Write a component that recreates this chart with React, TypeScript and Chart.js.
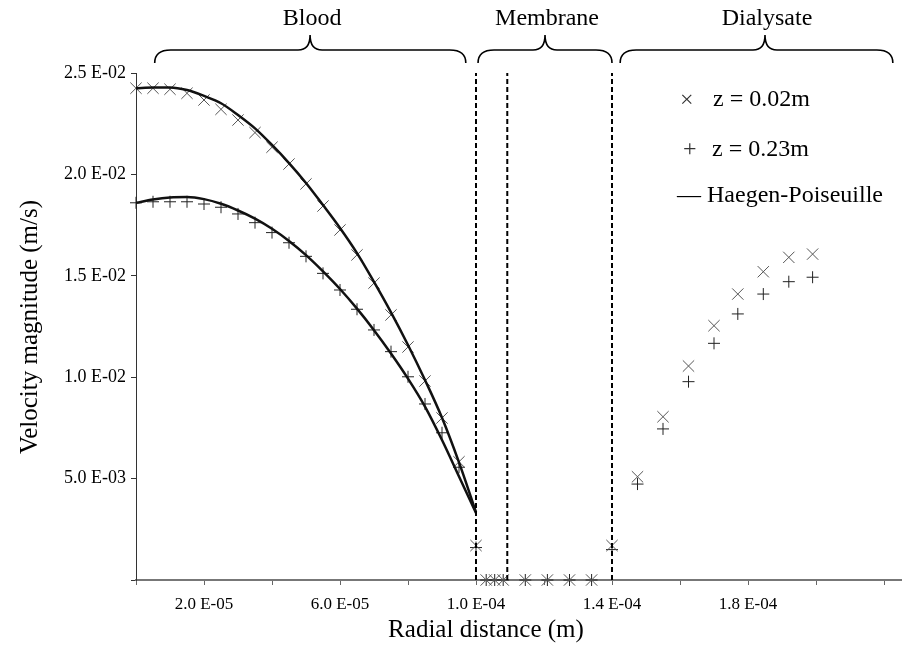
import { useEffect, useRef } from "react";
import { Chart, registerables } from "chart.js";
Chart.register(...registerables);

const FONT = '"Liberation Serif", "Times New Roman", serif';

// Radial positions in the blood region (m)
const R_BLOOD = [0, 5e-6, 1e-5, 1.5e-5, 2e-5, 2.5e-5, 3e-5, 3.5e-5, 4e-5, 4.5e-5, 5e-5, 5.5e-5, 6e-5, 6.5e-5, 7e-5, 7.5e-5, 8e-5, 8.5e-5, 9e-5, 9.5e-5, 1e-4];
// z = 0.02m simulated velocity in blood (m/s)
const V_Z002_BLOOD = [24.25e-3, 24.25e-3, 24.2e-3, 24.0e-3, 23.67e-3, 23.21e-3, 22.68e-3, 22.06e-3, 21.34e-3, 20.51e-3, 19.53e-3, 18.44e-3, 17.26e-3, 16.03e-3, 14.64e-3, 13.07e-3, 11.49e-3, 9.81e-3, 7.99e-3, 5.83e-3, 1.7e-3];
// z = 0.23m simulated velocity in blood (m/s)
const V_Z023_BLOOD = [18.6e-3, 18.65e-3, 18.65e-3, 18.65e-3, 18.54e-3, 18.38e-3, 18.05e-3, 17.62e-3, 17.13e-3, 16.63e-3, 15.96e-3, 15.12e-3, 14.3e-3, 13.35e-3, 12.33e-3, 11.26e-3, 10.02e-3, 8.68e-3, 7.26e-3, 5.56e-3, 1.6e-3];
// Haegen-Poiseuille profiles (m/s)
const HP_UPPER = [24.25e-3, 24.29e-3, 24.29e-3, 24.16e-3, 23.87e-3, 23.51e-3, 22.93e-3, 22.27e-3, 21.45e-3, 20.56e-3, 19.58e-3, 18.49e-3, 17.36e-3, 16.12e-3, 14.7e-3, 13.2e-3, 11.59e-3, 9.86e-3, 8.0e-3, 5.8e-3, 3.35e-3];
const HP_LOWER = [18.6e-3, 18.76e-3, 18.86e-3, 18.88e-3, 18.78e-3, 18.55e-3, 18.22e-3, 17.82e-3, 17.32e-3, 16.72e-3, 16.02e-3, 15.22e-3, 14.35e-3, 13.38e-3, 12.32e-3, 11.17e-3, 9.93e-3, 8.55e-3, 6.9e-3, 5.1e-3, 3.3e-3];

// Membrane region
const R_MEMBRANE = [1.03e-4, 1.055e-4, 1.08e-4, 1.145e-4, 1.21e-4, 1.275e-4, 1.34e-4, 1.4e-4];
const V_Z002_MEMBRANE = [0, 0, 0, 0, 0, 0, 0, 1.7e-3];
const V_Z023_MEMBRANE = [0, 0, 0, 0, 0, 0, 0, 1.5e-3];

// Dialysate region
const R_DIALYSATE = [1.475e-4, 1.55e-4, 1.625e-4, 1.7e-4, 1.77e-4, 1.845e-4, 1.92e-4, 1.99e-4];
const V_Z002_DIALYSATE = [5.09e-3, 8.05e-3, 10.55e-3, 12.54e-3, 14.1e-3, 15.2e-3, 15.91e-3, 16.07e-3];
const V_Z023_DIALYSATE = [4.73e-3, 7.45e-3, 9.78e-3, 11.67e-3, 13.12e-3, 14.1e-3, 14.71e-3, 14.93e-3];

// Membrane boundaries (dashed lines)
const BOUNDARIES = [1.0e-4, 1.092e-4, 1.4e-4];

// Regions with braces: [start, tip, end]
const REGION_NAMES = ["Blood", "Membrane", "Dialysate"];
const REGION_SPANS = [
  [0.55e-5, 5.12e-5, 9.7e-5],
  [10.06e-5, 12.03e-5, 14.0e-5],
  [14.24e-5, 18.5e-5, 22.26e-5],
];

const X_TICKS = [0, 2e-5, 4e-5, 6e-5, 8e-5, 1e-4, 1.2e-4, 1.4e-4, 1.6e-4, 1.8e-4, 2e-4, 2.2e-4];
const X_TICK_LABELS = ["", "2.0 E-05", "", "6.0 E-05", "", "1.0 E-04", "", "1.4 E-04", "", "1.8 E-04", "", ""];
const Y_TICKS = [0, 0.005, 0.01, 0.015, 0.02, 0.025];
const Y_TICK_LABELS = ["", "5.0 E-03", "1.0 E-02", "1.5 E-02", "2.0 E-02", "2.5 E-02"];

const LEGEND = [
  { sym: "\u00d7", text: "z = 0.02m" },
  { sym: "+", text: "z = 0.23m" },
  { sym: "\u2014", text: "Haegen-Poiseuille" },
];

const pts = (xs: number[], ys: number[]) => xs.map((x, i) => ({ x, y: ys[i] }));

const overlay = {
  id: "overlay",
  afterDraw(chart: any) {
    const ctx = chart.ctx;
    const xs = chart.scales.x;
    ctx.save();
    ctx.fillStyle = "#000";
    ctx.strokeStyle = "#000";
    // braces and region labels
    ctx.lineWidth = 1.6;
    REGION_SPANS.forEach((span, i) => {
      const x0 = xs.getPixelForValue(span[0]);
      const xt = xs.getPixelForValue(span[1]);
      const x1 = xs.getPixelForValue(span[2]);
      const yEnd = 63, yMid = 50, yTip = 35;
      ctx.beginPath();
      ctx.moveTo(x0, yEnd);
      ctx.quadraticCurveTo(x0, yMid, x0 + 16, yMid);
      ctx.lineTo(xt - 12, yMid);
      ctx.quadraticCurveTo(xt, yMid, xt, yTip);
      ctx.quadraticCurveTo(xt, yMid, xt + 12, yMid);
      ctx.lineTo(x1 - 16, yMid);
      ctx.quadraticCurveTo(x1, yMid, x1, yEnd);
      ctx.stroke();
      ctx.font = `24px ${FONT}`;
      ctx.textAlign = "center";
      ctx.textBaseline = "alphabetic";
      ctx.fillText(REGION_NAMES[i], xt + 2, 25);
    });
    // legend
    ctx.font = `24px ${FONT}`;
    ctx.textBaseline = "middle";
    ctx.textAlign = "left";
    ctx.fillStyle = "#333";
    ctx.fillText(LEGEND[0].sym, 680, 101);
    ctx.fillStyle = "#000";
    ctx.fillText(LEGEND[0].text, 713, 100);
    ctx.fillStyle = "#333";
    ctx.fillText(LEGEND[1].sym, 683, 150);
    ctx.fillStyle = "#000";
    ctx.fillText(LEGEND[1].text, 712, 150);
    ctx.fillText(LEGEND[2].sym + " " + LEGEND[2].text, 677, 196);
    // axis titles
    ctx.font = `25px ${FONT}`;
    ctx.textAlign = "center";
    ctx.fillText("Radial distance (m)", 486, 630);
    ctx.translate(30, 327);
    ctx.rotate(-Math.PI / 2);
    ctx.fillText("Velocity magnitude (m/s)", 0, 0);
    ctx.restore();
  },
};

export default function App() {
  const ref = useRef<HTMLCanvasElement>(null);
  useEffect(() => {
    if (!ref.current) return;
    const xData = [...pts(R_BLOOD, V_Z002_BLOOD), ...pts(R_MEMBRANE, V_Z002_MEMBRANE), ...pts(R_DIALYSATE, V_Z002_DIALYSATE)];
    const pData = [...pts(R_BLOOD, V_Z023_BLOOD), ...pts(R_MEMBRANE, V_Z023_MEMBRANE), ...pts(R_DIALYSATE, V_Z023_DIALYSATE)];
    const dashSets = BOUNDARIES.map((b) => ({
      label: "boundary",
      data: [{ x: b, y: 0 }, { x: b, y: 0.025 }],
      showLine: true,
      borderColor: "#000",
      borderWidth: 2,
      borderDash: [5, 3],
      pointRadius: 0,
      clip: false as any,
    }));
    const chart = new Chart(ref.current, {
      type: "scatter",
      data: {
        datasets: [
          ...dashSets,
          {
            label: "HP upper",
            data: pts(R_BLOOD, HP_UPPER),
            showLine: true,
            borderColor: "#111",
            borderWidth: 2.5,
            pointRadius: 0,
            cubicInterpolationMode: "monotone",
          },
          {
            label: "HP lower",
            data: pts(R_BLOOD, HP_LOWER),
            showLine: true,
            borderColor: "#111",
            borderWidth: 2.5,
            pointRadius: 0,
            cubicInterpolationMode: "monotone",
          },
          {
            label: "z = 0.02m",
            data: xData,
            pointStyle: "crossRot",
            pointRadius: 8,
            borderColor: "#555",
            backgroundColor: "#555",
            pointBorderWidth: 1,
            clip: false as any,
          },
          {
            label: "z = 0.23m",
            data: pData,
            pointStyle: "cross",
            pointRadius: 6,
            borderColor: "#222",
            backgroundColor: "#222",
            pointBorderWidth: 1,
            clip: false as any,
          },
        ] as any,
      },
      options: {
        responsive: false,
        animation: false,
        events: [],
        layout: { padding: { top: 73, right: 17, left: 0, bottom: 0 } },
        plugins: { legend: { display: false }, tooltip: { enabled: false }, title: { display: false } },
        scales: {
          x: {
            type: "linear",
            min: 0,
            max: 2.25e-4,
            afterBuildTicks: (s: any) => {
              s.ticks = X_TICKS.map((v) => ({ value: v }));
            },
            afterFit: (s: any) => {
              s.height = 75;
            },
            ticks: {
              autoSkip: false,
              maxRotation: 0,
              padding: 9,
              color: "#000",
              font: { family: FONT, size: 17 },
              callback: (_v: any, i: number) => X_TICK_LABELS[i],
            },
            grid: { drawOnChartArea: false, drawTicks: true, tickLength: 5, color: "#666" },
            border: { color: "#777", width: 2 },
          },
          y: {
            type: "linear",
            min: 0,
            max: 0.025,
            afterBuildTicks: (s: any) => {
              s.ticks = Y_TICKS.map((v) => ({ value: v }));
            },
            afterFit: (s: any) => {
              s.width = 136;
            },
            ticks: {
              autoSkip: false,
              padding: 5,
              color: "#000",
              font: { family: FONT, size: 18 },
              callback: (_v: any, i: number) => Y_TICK_LABELS[i],
            },
            grid: { drawOnChartArea: false, drawTicks: true, tickLength: 5, color: "#333" },
            border: { color: "#333", width: 1 },
          },
        },
      } as any,
      plugins: [overlay],
    });
    return () => chart.destroy();
  }, []);
  return (
    <div style={{ position: "fixed", left: 0, top: 0, width: 918, height: 655, background: "#fff" }}>
      <canvas ref={ref} width={918} height={655} style={{ width: 918, height: 655, display: "block" }} />
    </div>
  );
}
